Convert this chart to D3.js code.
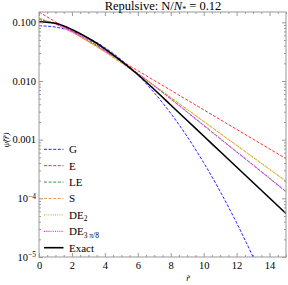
<!DOCTYPE html>
<html><head><meta charset="utf-8">
<script src="https://cdn.jsdelivr.net/npm/d3@7"></script>
<style>body{margin:0;background:#fff}svg{display:block}text{font-family:"Liberation Serif","DejaVu Serif",serif}</style>
</head><body><svg id="c" width="288" height="285"></svg>
<script>
const xs = [0,1,2,3,4,5,6,7,8,9,10,11,12,13,14,15];
const gauss = [0.0875,0.0829,0.0706,0.0540,0.0371,0.0229,0.01265,0.00630,0.00281,0.001127,4.06e-4,1.315e-4,3.82e-5,1.0e-5,2.34e-6,4.0e-7];
const expo  = [0.150,0.1022,0.0696,0.0474,0.0323,0.0220,0.0150,0.0102,0.00696,0.00474,0.00323,0.00220,0.00150,0.00102,6.96e-4,4.74e-4];
const le    = [0.1125,0.0944,0.0707,0.0496,0.0331,0.0214,0.01348,0.00826,0.00497,0.00296,0.00176,0.00104,6.2e-4,3.7e-4,2.2e-4,1.30e-4];
const sApp  = [0.1175,0.0929,0.0678,0.0468,0.0313,0.0203,0.01315,0.00837,0.00524,0.00327,0.00205,0.00128,8.0e-4,5.0e-4,3.13e-4,1.96e-4];
const de2   = [0.1180,0.0932,0.0680,0.0469,0.0314,0.0204,0.01318,0.00839,0.00525,0.00328,0.00205,0.00128,8.0e-4,5.0e-4,3.13e-4,1.96e-4];
const de38  = [0.1120,0.0942,0.0706,0.0495,0.0330,0.0213,0.01345,0.00824,0.00496,0.00295,0.00175,0.00104,6.2e-4,3.7e-4,2.2e-4,1.30e-4];
const exact = [0.1024,0.0962,0.0754,0.0534,0.0354,0.0219,0.01290,0.00716,0.00390,0.00212,0.001155,6.28e-4,3.42e-4,1.86e-4,1.013e-4,5.51e-5];
const yTicks = [1e-5,1e-4,1e-3,1e-2,1e-1];
const xTicks = [0,2,4,6,8,10,12,14];

const series = [
  {name:"G", v:gauss, color:"#2222ff", dash:"3,1.6", w:1},
  {name:"E", v:expo, color:"#ff3030", dash:"3,1.6", w:1},
  {name:"LE", v:le, color:"#3a9a3a", dash:"3,1.6", w:1},
  {name:"S", v:sApp, color:"#f59a4a", dash:"3,1.6", w:1},
  {name:"DE2", v:de2, color:"#c8c030", dash:"1,1.2", w:1.2},
  {name:"DE38", v:de38, color:"#ff22ff", dash:"1,1.2", w:1.2},
  {name:"Exact", v:exact, color:"#000000", dash:null, w:1.6}
];

const L=39,R=286,T=12,B=257;
const svg=d3.select("#c");
const x=d3.scaleLinear().domain([0,15]).range([L,R]);
const y=d3.scaleLog().domain([1e-5,0.15]).range([B,T]);

svg.append("clipPath").attr("id","cp").append("rect").attr("x",L).attr("y",T).attr("width",R-L).attr("height",B-T);

const line=d3.line().x((d,i)=>x(xs[i])).y(d=>y(d)).curve(d3.curveMonotoneX);
const g=svg.append("g").attr("clip-path","url(#cp)");
series.forEach(s=>{
  g.append("path").attr("d",line(s.v)).attr("fill","none").attr("stroke",s.color)
   .attr("stroke-width",s.w).attr("stroke-dasharray",s.dash);
});

// frame
const fc="#999";
svg.append("rect").attr("x",L).attr("y",T).attr("width",R-L).attr("height",B-T).attr("fill","none").attr("stroke",fc).attr("stroke-width",1);

// x ticks (major + minor), bottom and top, inward
const xb=d3.axisBottom(x).tickValues(xTicks).tickSize(-4).tickFormat(d3.format("d"));
const ax=svg.append("g").attr("transform",`translate(0,${B})`).call(xb);
ax.select(".domain").remove();
ax.selectAll("line").attr("stroke",fc);
ax.selectAll("text").attr("font-size",10.5).attr("fill","#000").attr("dy","0.95em").attr("y",2.5);
const minorX=d3.range(0,15.01,0.5).filter(v=>v%2!==0);
const axm=svg.append("g").attr("transform",`translate(0,${B})`).call(d3.axisBottom(x).tickValues(minorX).tickSize(-2).tickFormat(""));
axm.select(".domain").remove(); axm.selectAll("line").attr("stroke",fc);
const at=svg.append("g").attr("transform",`translate(0,${T})`).call(d3.axisTop(x).tickValues(xTicks).tickSize(-4).tickFormat(""));
at.select(".domain").remove(); at.selectAll("line").attr("stroke",fc);
const atm=svg.append("g").attr("transform",`translate(0,${T})`).call(d3.axisTop(x).tickValues(minorX).tickSize(-2).tickFormat(""));
atm.select(".domain").remove(); atm.selectAll("line").attr("stroke",fc);

// y ticks
const minorY=[];
[1e-5,1e-4,1e-3,1e-2,1e-1].forEach(d=>{for(let k=2;k<=9;k++){const v=d*k; if(v<=0.15) minorY.push(v);}});
const al=svg.append("g").attr("transform",`translate(${L},0)`).call(d3.axisLeft(y).tickValues(yTicks).tickSize(-4).tickFormat(""));
al.select(".domain").remove(); al.selectAll("line").attr("stroke",fc);
const alm=svg.append("g").attr("transform",`translate(${L},0)`).call(d3.axisLeft(y).tickValues(minorY).tickSize(-2).tickFormat(""));
alm.select(".domain").remove(); alm.selectAll("line").attr("stroke",fc);
const ar=svg.append("g").attr("transform",`translate(${R},0)`).call(d3.axisRight(y).tickValues(yTicks).tickSize(-4).tickFormat(""));
ar.select(".domain").remove(); ar.selectAll("line").attr("stroke",fc);
const arm=svg.append("g").attr("transform",`translate(${R},0)`).call(d3.axisRight(y).tickValues(minorY).tickSize(-2).tickFormat(""));
arm.select(".domain").remove(); arm.selectAll("line").attr("stroke",fc);

// y tick labels
const yl=svg.append("g");
yTicks.forEach(v=>{
  const t=yl.append("text").attr("x",L-3).attr("y",y(v)).attr("dy","0.35em").attr("text-anchor","end").attr("font-size",10.5);
  if(v>=1e-3){ t.text(d3.format(".3f")(v)); }
  else { const e=Math.round(Math.log10(v)); t.text("10"); t.append("tspan").attr("dy","-0.45em").attr("font-size",7.5).text("−"+Math.abs(e)); }
});

// title
const tt=svg.append("text").attr("x",163).attr("y",9.5).attr("text-anchor","middle").attr("font-size",12.5);
tt.append("tspan").text("Repulsive: N/");
tt.append("tspan").attr("font-style","italic").text("N");
tt.append("tspan").attr("font-size",8).attr("dy","2").text("*");
tt.append("tspan").attr("dy","-2").text(" = 0.12");

// axis titles
svg.append("text").attr("x",188).attr("y",281).attr("font-size",9).attr("font-style","italic").attr("text-anchor","middle").text("r\u0303");
svg.append("text").attr("transform","translate(9,140) rotate(-90)").attr("font-size",9).attr("font-style","italic").attr("text-anchor","middle").text("\u03C8\u0303(r\u0303)");

// legend
const leg=svg.append("g");
const labels=[["G"],["E"],["LE"],["S"],["DE","2"],["DE","3 π/8"],["Exact"]];
series.forEach((s,i)=>{
  const yy=149.3+i*16.4;
  leg.append("line").attr("x1",44).attr("x2",63.5).attr("y1",yy).attr("y2",yy).attr("stroke",s.color).attr("stroke-width",s.w).attr("stroke-dasharray",s.dash);
  const t=leg.append("text").attr("x",69).attr("y",yy).attr("dy","0.35em").attr("font-size",11);
  t.append("tspan").text(labels[i][0]);
  if(labels[i][1]) t.append("tspan").attr("font-size",7.5).attr("dy","2.5").text(labels[i][1]);
});
</script></body></html>
